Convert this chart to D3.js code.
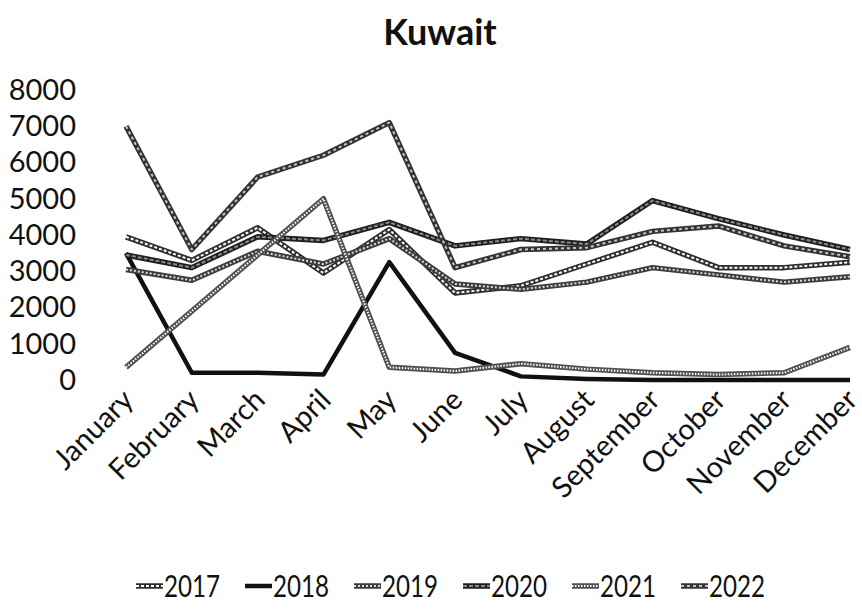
<!DOCTYPE html>
<html>
<head>
<meta charset="utf-8">
<script src="https://cdn.jsdelivr.net/npm/d3@7/dist/d3.min.js"></script>
<style>
  html, body { margin: 0; padding: 0; background: #fff; }
  svg { display: block; }
  text { font-family: Lato, "Liberation Sans", sans-serif; fill: #111; }
</style>
</head>
<body>
<svg id="chart" width="862" height="611"></svg>
<script>
// Monthly figures for Kuwait, one series per year
const months = ["January", "February", "March", "April", "May", "June",
                "July", "August", "September", "October", "November", "December"];
const years = ["2017", "2018", "2019", "2020", "2021", "2022"];
const yTicks = [0, 1000, 2000, 3000, 4000, 5000, 6000, 7000, 8000];

const v2017 = [3950, 3300, 4200, 2950, 4150, 2400, 2600, 3200, 3800, 3100, 3100, 3250];
const v2018 = [3500, 200, 200, 150, 3250, 750, 100, 30, 0, 0, 0, 0];
const v2019 = [3050, 2750, 3550, 3200, 3900, 2650, 2500, 2700, 3100, 2900, 2700, 2850];
const v2020 = [3450, 3100, 3950, 3850, 4350, 3700, 3900, 3750, 4950, 4450, 4000, 3600];
const v2021 = [350, 1900, 3450, 5000, 350, 250, 450, 300, 200, 150, 200, 900];
const v2022 = [7000, 3600, 5600, 6200, 7100, 3100, 3600, 3650, 4100, 4250, 3700, 3400];

const seriesValues = [v2017, v2018, v2019, v2020, v2021, v2022];

// Stroke treatment per year: an outer band and a broken inner core
const outerColors = ["#2e2e2e", "#111111", "#3c3c3c", "#1e1e1e", "#505050", "#333333"];
const innerColors = ["#ffffff", null, "#d8d8d8", "#8a8a8a", "#ffffff", "#c4c4c4"];
const innerDashes = ["3,2", null, "2,2", "4,2", "1.5,1.5", "3,3"];

const svg = d3.select("#chart");

const x = d3.scalePoint().domain(months).range([126, 850]);
const y = d3.scaleLinear().domain([0, 8000]).range([380, 90]);

// Title
svg.append("text")
  .attr("x", 440).attr("y", 45)
  .attr("text-anchor", "middle")
  .style("font-size", "36px").style("font-weight", "bold")
  .text("Kuwait");

// Value axis
const yAxis = svg.append("g")
  .attr("transform", "translate(80,0)")
  .call(d3.axisLeft(y).tickValues(yTicks).tickSize(0).tickPadding(4).tickFormat(d3.format("d")));
yAxis.select(".domain").remove();
yAxis.selectAll("text")
  .style("font-size", "29px").style("font-family", "Lato, sans-serif").attr("fill", "#111");

// Month axis, labels slanted
const xAxis = svg.append("g")
  .attr("transform", "translate(0,393)")
  .call(d3.axisBottom(x).tickSize(0).tickPadding(0));
xAxis.select(".domain").remove();
xAxis.selectAll("text")
  .style("font-size", "29px").style("font-family", "Lato, sans-serif").attr("fill", "#111")
  .attr("text-anchor", "end")
  .attr("y", 0)
  .attr("dy", "0.42em")
  .attr("transform", "rotate(-45)");

const line = d3.line()
  .x((d, i) => x(months[i]))
  .y(d => y(d));

const series = years.map((yr, k) => ({ year: yr, values: seriesValues[k], k }));

const g = svg.append("g");
series.forEach(s => {
  g.append("path")
    .attr("d", line(s.values))
    .attr("fill", "none")
    .attr("stroke", outerColors[s.k])
    .attr("stroke-width", s.k === 1 ? 4.5 : 5.5)
    .attr("stroke-linejoin", "round");
  if (innerColors[s.k]) {
    g.append("path")
      .attr("d", line(s.values))
      .attr("fill", "none")
      .attr("stroke", innerColors[s.k])
      .attr("stroke-width", 2)
      .attr("stroke-dasharray", innerDashes[s.k])
      .attr("stroke-linejoin", "round");
  }
});

// Legend along the bottom
const legend = svg.append("g").attr("transform", "translate(0,586)");
const itemW = 109, startX = 136;
series.forEach((s, i) => {
  const gx = startX + i * itemW;
  const item = legend.append("g").attr("transform", `translate(${gx},0)`);
  item.append("line")
    .attr("x1", 0).attr("x2", 27).attr("y1", 0).attr("y2", 0)
    .attr("stroke", outerColors[s.k]).attr("stroke-width", s.k === 1 ? 4.5 : 5.5);
  if (innerColors[s.k]) {
    item.append("line")
      .attr("x1", 0).attr("x2", 27).attr("y1", 0).attr("y2", 0)
      .attr("stroke", innerColors[s.k]).attr("stroke-width", 2)
      .attr("stroke-dasharray", innerDashes[s.k]);
  }
  item.append("text")
    .attr("x", 28).attr("y", 11)
    .attr("textLength", 56)
    .attr("lengthAdjust", "spacingAndGlyphs")
    .style("font-size", "30px")
    .text(s.year);
});
</script>
</body>
</html>
